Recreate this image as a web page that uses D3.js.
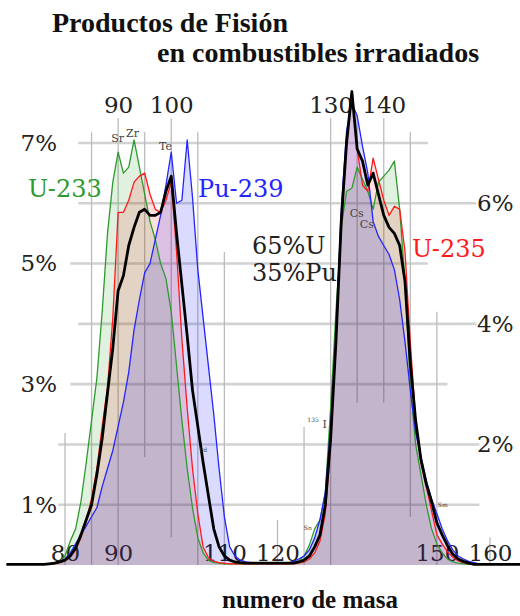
<!DOCTYPE html>
<html>
  <head>
    <meta charset="utf-8">
    <title>Productos de Fisión</title>
    <script type="text/javascript" src="https://d3js.org/d3.v7.min.js"></script>
    <style type="text/css">
      body { margin: 0; background: white; }
      svg { display: block; }
      .tick text { font-family: "DejaVu Serif", serif; fill: #222; }
      .titulo { font-family: "Liberation Serif", serif; font-weight: bold; fill: #111; }
      .serie { font-family: "DejaVu Serif", serif; font-size: 24px; }
      .elem { font-family: "DejaVu Serif", serif; fill: #444; }
    </style>
  </head>
  <body>
    <script type="text/javascript">
    // numero de masa (A)
    var masas = [69,
      70, 71, 72, 73, 74, 75, 76, 77, 78, 79,
      80, 81, 82, 83, 84, 85, 86, 87, 88, 89,
      90, 91, 92, 93, 94, 95, 96, 97, 98, 99,
      100, 101, 102, 103, 104, 105, 106, 107, 108, 109,
      110, 111, 112, 113, 114, 115, 116, 117, 118, 119,
      120, 121, 122, 123, 124, 125, 126, 127, 128, 129,
      130, 131, 132, 133, 134, 135, 136, 137, 138, 139,
      140, 141, 142, 143, 144, 145, 146, 147, 148, 149,
      150, 151, 152, 153, 154, 155, 156, 157, 158, 159,
      160, 161, 162, 163, 164, 165, 166];

    // rendimiento (%) por masa
    var u233 = [0.01,
      0.01, 0.01, 0.01, 0.01, 0.01, 0.01, 0.01, 0.02, 0.03, 0.06,
      0.15, 0.4, 0.6, 1.05, 1.7, 2.4, 3.1, 4.2, 5.5, 6.35,
      6.85, 6.5, 6.6, 7.05, 6.6, 6.15, 5.7, 5.4, 5.0, 4.75,
      4.2, 3.3, 2.4, 1.6, 0.95, 0.45, 0.2, 0.08, 0.04, 0.03,
      0.02, 0.02, 0.02, 0.02, 0.02, 0.02, 0.02, 0.02, 0.02, 0.02,
      0.02, 0.02, 0.02, 0.03, 0.07, 0.15, 0.33, 0.6, 0.75, 1.2,
      2.6, 4.2, 5.6, 6.2, 6.25, 6.6, 6.4, 6.2, 5.9, 6.35,
      6.45, 6.55, 6.7, 5.9, 4.7, 3.0, 2.0, 1.5, 1.0, 0.6,
      0.35, 0.2, 0.1, 0.05, 0.03, 0.02, 0.01, 0.01, 0.01, 0.01,
      0.01, 0.01, 0.01, 0.01, 0.01, 0.01, 0.01];

    var u235 = [0.01,
      0.01, 0.01, 0.01, 0.01, 0.01, 0.01, 0.01, 0.01, 0.02, 0.04,
      0.07, 0.14, 0.27, 0.45, 0.75, 1.1, 1.6, 2.3, 2.95, 4.1,
      5.85, 5.85, 6.05, 6.35, 6.45, 6.5, 6.15, 5.9, 5.85, 6.05,
      6.35, 5.2, 3.75, 2.6, 1.6, 0.85, 0.3, 0.12, 0.06, 0.04,
      0.03, 0.02, 0.02, 0.02, 0.02, 0.02, 0.02, 0.02, 0.02, 0.02,
      0.02, 0.02, 0.02, 0.02, 0.03, 0.05, 0.1, 0.2, 0.4, 0.85,
      2.0, 3.7, 5.6, 7.0, 7.87, 6.9, 6.3, 6.2, 6.75, 6.4,
      6.05, 5.8, 5.95, 5.9, 5.2, 3.7, 2.4, 1.7, 1.3, 0.9,
      0.5, 0.35, 0.22, 0.13, 0.07, 0.04, 0.02, 0.01, 0.01, 0.01,
      0.01, 0.01, 0.01, 0.01, 0.01, 0.01, 0.01];

    var pu239 = [0.01,
      0.01, 0.01, 0.01, 0.01, 0.01, 0.01, 0.01, 0.02, 0.03, 0.06,
      0.1, 0.2, 0.35, 0.5, 0.65, 0.8, 0.95, 1.3, 1.6, 1.9,
      2.3, 2.7, 3.2, 3.9, 4.4, 4.85, 5.0, 5.4, 5.8, 6.3,
      6.85, 6.0, 6.05, 7.05, 6.1, 4.9, 4.1, 3.3, 2.5, 1.6,
      0.8, 0.3, 0.15, 0.08, 0.05, 0.04, 0.03, 0.03, 0.03, 0.03,
      0.03, 0.03, 0.03, 0.06, 0.1, 0.15, 0.25, 0.45, 0.75, 1.2,
      2.3, 3.8, 5.9, 7.2, 7.66, 7.45, 6.95, 6.5, 5.7, 5.45,
      5.3, 5.15, 4.9, 4.4, 3.7, 2.9, 2.2, 1.8, 1.4, 1.1,
      0.85, 0.6, 0.4, 0.25, 0.15, 0.1, 0.06, 0.04, 0.02, 0.01,
      0.01, 0.01, 0.01, 0.01, 0.01, 0.01, 0.01];

    // 65% U + 35% Pu
    var mezcla = [0.01,
      0.01, 0.01, 0.01, 0.01, 0.01, 0.01, 0.01, 0.02, 0.03, 0.05,
      0.08, 0.15, 0.28, 0.5, 0.75, 1.0, 1.5, 2.1, 2.85, 3.6,
      4.55, 4.8, 5.3, 5.6, 5.85, 5.9, 5.8, 5.8, 5.85, 6.2,
      6.45, 5.5, 4.65, 3.8, 2.9, 2.3, 1.7, 1.15, 0.6, 0.3,
      0.15, 0.08, 0.05, 0.04, 0.03, 0.03, 0.03, 0.03, 0.03, 0.03,
      0.03, 0.03, 0.03, 0.03, 0.05, 0.08, 0.15, 0.3, 0.5, 1.0,
      2.1, 3.7, 5.7, 7.0, 7.85, 6.9, 6.7, 6.3, 6.5, 6.15,
      5.8, 5.6, 5.5, 5.3, 4.7, 3.35, 2.4, 1.75, 1.35, 1.05,
      0.7, 0.5, 0.32, 0.18, 0.1, 0.06, 0.03, 0.01, 0.01, 0.01,
      0.01, 0.01, 0.01, 0.01, 0.01, 0.01, 0.01];

    var ticksIzq = [1, 3, 5, 7];
    var ticksDer = [2, 4, 6];
    var ticksArriba = [90, 100, 130, 140];
    var ticksAbajo = [80, 90, 110, 120, 150, 160];

    // elementos marcados sobre las curvas
    var elementos = ["Sr", "Zr", "Te", "Cs", "Cs", "I", "Pd", "Sn", "Sm"];
    var elemMasa  = [89.9, 92.7, 98.9, 134.9, 136.8, 128.9, 106, 125.7, 151.1];
    var elemValor = [7.01, 7.1, 6.88, 5.77, 5.59, 2.27, 1.87, 0.58, 0.96];

    var width = 520;
    var height = 616;

    var svg = d3.select("body")
                .append("svg")
                .attr("width", width)
                .attr("height", height);

    var x = d3.scaleLinear()
              .domain([80, 160])
              .range([65, 490]);

    var y = d3.scaleLinear()
              .domain([0, 7])
              .range([565, 143]);

    // rejilla irregular: [valor, masa desde, masa hasta]
    var rejillaH = [[7, 82.5, 148.3], [6, 82.5, 157.4], [5, 81, 148.3], [4, 82.5, 157.4],
                    [3, 81, 152], [2, 78.7, 158], [1, 78.7, 158]];
    // [masa, valor desde, valor hasta]
    var rejillaV = [[80, 2.19, 0], [85, 7.18, 0], [90, 7.41, 0], [95, 7.18, 1.79],
                    [100, 7.41, 0.46], [105, 7.18, 0], [110, 5.19, 0], [120, 0.75, 0],
                    [125, 2.29, 0], [130, 7.41, 0], [135, 7.46, 2.69], [140, 7.41, 2.69],
                    [145, 7.18, 0.8], [150, 4.2, 0], [160, 0.46, 0]];

    svg.append("g")
       .selectAll("line")
       .data(rejillaH)
       .enter()
       .append("line")
       .attr("x1", function(d){ return x(d[1]); })
       .attr("x2", function(d){ return x(d[2]); })
       .attr("y1", function(d){ return y(d[0]); })
       .attr("y2", function(d){ return y(d[0]); })
       .attr("stroke", "#d2d2d2")
       .attr("stroke-width", 2.6);

    svg.append("g")
       .selectAll("line")
       .data(rejillaV)
       .enter()
       .append("line")
       .attr("x1", function(d){ return x(d[0]); })
       .attr("x2", function(d){ return x(d[0]); })
       .attr("y1", function(d){ return y(d[1]); })
       .attr("y2", function(d){ return y(d[2]); })
       .attr("stroke", "#bcbcbc")
       .attr("stroke-width", 1.3);

    // ejes: solo etiquetas
    function limpiar(g, size){
      g.select(".domain").remove();
      g.selectAll(".tick line").remove();
      g.attr("font-family", null).attr("font-size", size);
    }

    svg.append("g")
       .attr("transform", "translate(60,0)")
       .call(d3.axisLeft(y).tickValues(ticksIzq).tickSize(0).tickPadding(3)
               .tickFormat(function(d){ return d + "%"; }))
       .call(limpiar, 23);

    svg.append("g")
       .attr("transform", "translate(477,0)")
       .call(d3.axisRight(y).tickValues(ticksDer).tickSize(0).tickPadding(0)
               .tickFormat(function(d){ return d + "%"; }))
       .call(limpiar, 23);

    svg.append("g")
       .attr("transform", "translate(0,113)")
       .call(d3.axisTop(x).tickValues(ticksArriba).tickSize(0).tickPadding(0))
       .call(limpiar, 23);

    svg.append("g")
       .attr("transform", "translate(0,545)")
       .call(d3.axisBottom(x).tickValues(ticksAbajo).tickSize(0).tickPadding(0))
       .call(limpiar, 23);

    var series = [
      {nombre: "U-233", valores: u233, color: "#2e9a2e", relleno: "rgba(0,140,0,0.12)", ancho: 1.3},
      {nombre: "U-235", valores: u235, color: "#ff1a1a", relleno: "rgba(255,0,0,0.12)", ancho: 1.3},
      {nombre: "Pu-239", valores: pu239, color: "#2424ff", relleno: "rgba(0,0,255,0.14)", ancho: 1.3},
      {nombre: "mezcla", valores: mezcla, color: "#000000", relleno: "none", ancho: 2.8}
    ];

    var area = d3.area()
                 .x(function(d, i){ return x(masas[i]); })
                 .y0(y(0))
                 .y1(function(d){ return y(d); });

    var linea = d3.line()
                  .x(function(d, i){ return x(masas[i]); })
                  .y(function(d){ return y(d); });

    svg.append("g")
       .selectAll("path")
       .data(series.filter(function(s){ return s.relleno != "none"; }))
       .enter()
       .append("path")
       .attr("d", function(s){ return area(s.valores); })
       .attr("fill", function(s){ return s.relleno; });

    svg.append("g")
       .selectAll("path")
       .data(series)
       .enter()
       .append("path")
       .attr("d", function(s){ return linea(s.valores); })
       .attr("fill", "none")
       .attr("stroke", function(s){ return s.color; })
       .attr("stroke-width", function(s){ return s.ancho; })
       .attr("stroke-linejoin", "round");

    // elementos
    svg.append("g")
       .selectAll("text")
       .data(elementos)
       .enter()
       .append("text")
       .attr("class", "elem")
       .attr("x", function(d, i){ return x(elemMasa[i]); })
       .attr("y", function(d, i){ return y(elemValor[i]); })
       .attr("text-anchor", "middle")
       .attr("font-size", function(d, i){ return i >= 6 ? 6 : 11; })
       .text(function(d){ return d; });

    svg.append("text")
       .attr("class", "elem")
       .attr("x", x(128.9) - 6)
       .attr("y", y(2.27) - 6)
       .attr("text-anchor", "end")
       .attr("font-size", 6)
       .text("135");

    // nombres de las series
    svg.append("text").attr("class", "serie").attr("x", 28).attr("y", 197)
       .attr("fill", "#2e9a2e").text("U-233");
    svg.append("text").attr("class", "serie").attr("x", 198).attr("y", 197)
       .attr("fill", "#2424ff").text("Pu-239");
    svg.append("text").attr("class", "serie").attr("x", 412).attr("y", 257)
       .attr("fill", "#ff1a1a").text("U-235");
    svg.append("text").attr("class", "serie").attr("x", 252).attr("y", 254)
       .attr("fill", "#222").attr("font-size", 23).text("65%U");
    svg.append("text").attr("class", "serie").attr("x", 252).attr("y", 281)
       .attr("fill", "#222").attr("font-size", 23).text("35%Pu");

    // titulos
    svg.append("text").attr("class", "titulo").attr("x", 52).attr("y", 32)
       .attr("font-size", 28).text("Productos de Fisión");
    svg.append("text").attr("class", "titulo").attr("x", 157).attr("y", 62)
       .attr("font-size", 28).text("en combustibles irradiados");
    svg.append("text").attr("class", "titulo").attr("x", 310).attr("y", 608)
       .attr("text-anchor", "middle").attr("font-size", 25).text("numero de masa");
    </script>
  </body>
</html>
